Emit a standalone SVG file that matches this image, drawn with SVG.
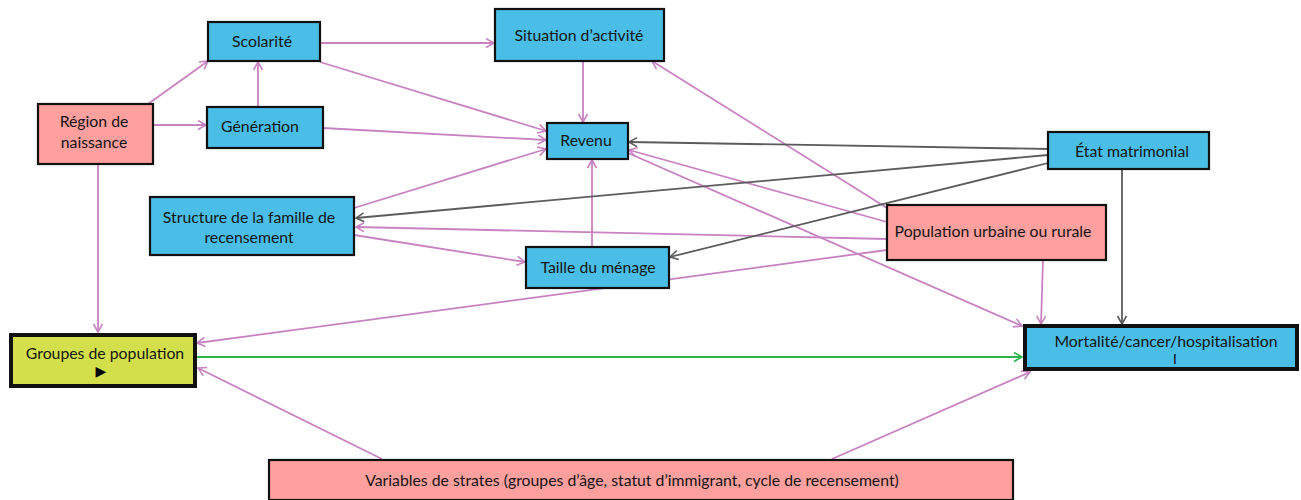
<svg xmlns="http://www.w3.org/2000/svg" width="1301" height="500" viewBox="0 0 1301 500">
<style>
.box{stroke:#111;stroke-width:2.2}
.thick{stroke-width:4}
.blue{fill:#4BBEE7}
.pink{fill:#FFA09E}
.lime{fill:#D3E04C}
.t{font-family:Lato,"Liberation Sans",sans-serif;font-size:15.8px;fill:#141414;text-anchor:middle}
.cp{stroke:#C882C2;stroke-width:1.8;fill:none}
.cg{stroke:#5c5c5c;stroke-width:1.8;fill:none}
.cgr{stroke:#2DB34A;stroke-width:1.8;fill:none}
</style>
<defs>
<marker id="ap" markerUnits="userSpaceOnUse" markerWidth="12" markerHeight="12" refX="9" refY="5" orient="auto"><path d="M1,0.5 L9,5 L1,9.5" fill="none" stroke="#C882C2" stroke-width="1.6"/></marker>
<marker id="ag" markerUnits="userSpaceOnUse" markerWidth="12" markerHeight="12" refX="9" refY="5" orient="auto"><path d="M1,0.5 L9,5 L1,9.5" fill="none" stroke="#5c5c5c" stroke-width="1.6"/></marker>
<marker id="agr" markerUnits="userSpaceOnUse" markerWidth="12" markerHeight="12" refX="9" refY="5" orient="auto"><path d="M1,0.5 L9,5 L1,9.5" fill="none" stroke="#2DB34A" stroke-width="1.6"/></marker>
</defs>
<rect width="1301" height="500" fill="#fff"/>
<g id="connectors">
<path class="cp" marker-end="url(#ap)" d="M148,104 L208,61"/>
<path class="cp" marker-end="url(#ap)" d="M153,125 L206,125"/>
<path class="cp" marker-end="url(#ap)" d="M258,106 L258,62"/>
<path class="cp" marker-end="url(#ap)" d="M320,43 L494,43"/>
<path class="cp" marker-end="url(#ap)" d="M320,62 L546,131"/>
<path class="cp" marker-end="url(#ap)" d="M323,128 L546,140"/>
<path class="cp" marker-end="url(#ap)" d="M583,61 L583,122"/>
<path class="cp" marker-end="url(#ap)" d="M354,208 L546,149"/>
<path class="cp" marker-end="url(#ap)" d="M592,246 L592,160"/>
<path class="cp" marker-end="url(#ap)" d="M887,208 L652,61"/>
<path class="cp" marker-end="url(#ap)" d="M887,222 L629,150"/>
<path class="cp" marker-end="url(#ap)" d="M628,153 L1022,326"/>
<path class="cp" marker-end="url(#ap)" d="M887,239 L356,227"/>
<path class="cg" marker-end="url(#ag)" d="M1048,155 L356,218"/>
<path class="cg" marker-end="url(#ag)" d="M1048,149 L629,142"/>
<path class="cg" marker-end="url(#ag)" d="M1048,163 L670,257"/>
<path class="cg" marker-end="url(#ag)" d="M1122,169 L1122,324"/>
<path class="cp" marker-end="url(#ap)" d="M1043,260 L1041,324"/>
<path class="cp" marker-end="url(#ap)" d="M354,235 L525,262"/>
<path class="cp" marker-end="url(#ap)" d="M887,250 L197,343"/>
<path class="cp" marker-end="url(#ap)" d="M98,164 L98,332"/>
<path class="cgr" marker-end="url(#agr)" d="M197,357 L1022,357"/>
<path class="cp" marker-end="url(#ap)" d="M382,459 L198,368"/>
<path class="cp" marker-end="url(#ap)" d="M832,459 L1030,372"/>
</g>
<g id="scolarite"><rect class="box blue" x="208" y="22" width="112" height="39"/><text class="t" x="262" y="47">Scolarité</text></g>
<g id="region"><rect class="box pink" x="38" y="104" width="115" height="60"/><text class="t" x="94" y="127">Région de</text><text class="t" x="94" y="148">naissance</text></g>
<g id="generation"><rect class="box blue" x="207" y="107" width="116" height="41"/><text class="t" x="260" y="132">Génération</text></g>
<g id="situation"><rect class="box blue" x="495" y="9" width="169" height="52"/><text class="t" x="579" y="41">Situation d’activité</text></g>
<g id="revenu"><rect class="box blue" x="547" y="123" width="81" height="36"/><text class="t" x="586" y="146">Revenu</text></g>
<g id="etat"><rect class="box blue" x="1048" y="132" width="161" height="37"/><text class="t" x="1132" y="157">État matrimonial</text></g>
<g id="population-urbaine"><rect class="box pink" x="887" y="205" width="219" height="55"/><text class="t" x="993" y="237">Population urbaine ou rurale</text></g>
<g id="structure"><rect class="box blue" x="150" y="197" width="204" height="58"/><text class="t" x="249" y="223">Structure de la famille de</text><text class="t" x="249" y="243">recensement</text></g>
<g id="taille"><rect class="box blue" x="526" y="247" width="143" height="41"/><text class="t" x="598" y="273">Taille du ménage</text></g>
<g id="groupes"><rect class="box thick lime" x="11" y="335" width="184" height="51"/><text class="t" x="105" y="359">Groupes de population</text><text x="101" y="376" style="font-family:'DejaVu Sans',sans-serif;font-size:14px;fill:#000;text-anchor:middle">▶</text></g>
<g id="mortalite"><rect class="box thick blue" x="1025" y="326" width="272" height="43"/><text class="t" x="1166" y="347">Mortalité/cancer/hospitalisation</text><text x="1175" y="362" style="font-family:'Liberation Sans',sans-serif;font-size:10px;font-weight:bold;fill:#000;text-anchor:middle">|</text></g>
<g id="variables"><rect class="box pink" x="269" y="460" width="744" height="40"/><text class="t" x="632" y="486">Variables de strates (groupes d’âge, statut d’immigrant, cycle de recensement)</text></g>
</svg>
